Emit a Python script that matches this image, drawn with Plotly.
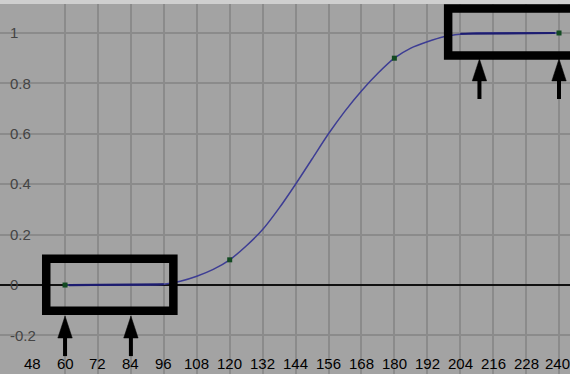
import plotly.graph_objects as go

# Animation curve samples (frame, value)
curve_x = [60, 66, 72, 78, 84, 90, 96, 102, 108, 114, 120, 126, 132, 138, 144, 150,
           156, 162, 168, 174, 180, 186, 192, 198, 204, 210, 216, 222, 228, 234, 240]
curve_y = [0, 0, 0, 0, 0, 0, 0.003, 0.015, 0.035, 0.062, 0.1, 0.155, 0.22, 0.305, 0.4, 0.5,
           0.6, 0.69, 0.77, 0.84, 0.9, 0.94, 0.965, 0.985, 0.995, 1, 1, 1, 1, 1, 1]

# Keyframes
key_x = [60, 120, 180, 240]
key_y = [0, 0.1, 0.9, 1]

# Highlighted flat segments
flat1_x = [61.5, 96]
flat1_y = [0, 0.003]
flat2_x = [204, 238.5]
flat2_y = [0.997, 1]

# Axis ticks
x_ticks = [48, 60, 72, 84, 96, 108, 120, 132, 144, 156, 168, 180, 192, 204, 216, 228, 240]
x_tick_text = [str(v) for v in x_ticks]
y_ticks = [-0.2, 0, 0.2, 0.4, 0.6, 0.8, 1]
y_tick_text = ["-0.2", "0", "0.2", "0.4", "0.6", "0.8", "1"]

# Highlight boxes (x0, x1, y0, y1)
box_low = [53.15, 99.47, -0.1025, 0.104]
box_high = [199.6, 252, 0.911, 1.097]

# Arrows: x, tip y, tail y
arrow_x = [60, 84, 211, 240]
arrow_tip = [-0.123, -0.123, 0.897, 0.897]
arrow_tail = [-0.282, -0.282, 0.738, 0.738]

FONT = "Liberation Sans, Arial, sans-serif"

fig = go.Figure()
fig.add_trace(go.Scatter(x=curve_x, y=curve_y, mode="lines",
                         line=dict(color="#3d3d94", width=1.5, shape="spline", smoothing=0.8),
                         hoverinfo="skip", showlegend=False))
fig.add_trace(go.Scatter(x=flat1_x, y=flat1_y, mode="lines",
                         line=dict(color="#1c1c70", width=2.2), showlegend=False))
fig.add_trace(go.Scatter(x=flat2_x, y=flat2_y, mode="lines",
                         line=dict(color="#1c1c70", width=2.2), showlegend=False))
fig.add_trace(go.Scatter(x=key_x, y=key_y, mode="markers",
                         marker=dict(symbol="square", size=5, color="#124a22",
                                     line=dict(width=0)), showlegend=False))

shapes = []
for b in (box_low, box_high):
    shapes.append(dict(type="rect", xref="x", yref="y", x0=b[0], x1=b[1], y0=b[2], y1=b[3],
                       line=dict(color="black", width=8.5), fillcolor="rgba(0,0,0,0)"))

px_per_x = 570 / (244.0 - 36.3)
px_per_y = 370 / (1.115 + 0.353)
head_half_w = 7.2 / px_per_x
head_len = 22 / px_per_y
for ax_, tip, tail in zip(arrow_x, arrow_tip, arrow_tail):
    shapes.append(dict(type="line", xref="x", yref="y", x0=ax_, x1=ax_,
                       y0=tip - head_len * 0.8, y1=tail,
                       line=dict(color="black", width=4)))
    path = (f"M {ax_ - head_half_w},{tip - head_len} L {ax_},{tip} "
            f"L {ax_ + head_half_w},{tip - head_len} Z")
    shapes.append(dict(type="path", xref="x", yref="y", path=path,
                       fillcolor="black", line=dict(color="black", width=0.5)))

# x tick labels drawn inside the plot, positioned by the x axis
annotations = [dict(x=v, y=0, xref="x", yref="paper", text=t, showarrow=False,
                    xanchor="center", yanchor="bottom", yshift=0,
                    xshift=(-2 if i == len(x_ticks) - 1 else 0),
                    font=dict(family=FONT, size=15, color="black"))
               for i, (v, t) in enumerate(zip(x_ticks, x_tick_text))]

fig.update_layout(
    width=570, height=374,
    margin=dict(l=0, r=0, t=4, b=0, pad=0),
    paper_bgcolor="#cfcfcf",
    plot_bgcolor="#a3a3a3",
    font=dict(family=FONT, size=15, color="black"),
    shapes=shapes,
    annotations=annotations,
    showlegend=False,
)
fig.update_xaxes(range=[36.3, 244.0], tickvals=x_ticks, ticks="", showticklabels=False,
                 showgrid=True, gridcolor="#8b8b8b", gridwidth=1.6,
                 zeroline=False, showline=False, fixedrange=True)
fig.update_yaxes(range=[-0.353, 1.115], tickvals=y_ticks, ticktext=y_tick_text, ticks="",
                 ticklabelposition="inside", ticklabelstandoff=7,
                 showgrid=True, gridcolor="#8b8b8b", gridwidth=1.6,
                 zeroline=True, zerolinecolor="#111111", zerolinewidth=1.5,
                 showline=False, fixedrange=True)

fig.write_html("out.html", config=dict(displayModeBar=False),
               post_script="document.body.style.margin='0';document.body.style.overflow='hidden';")
